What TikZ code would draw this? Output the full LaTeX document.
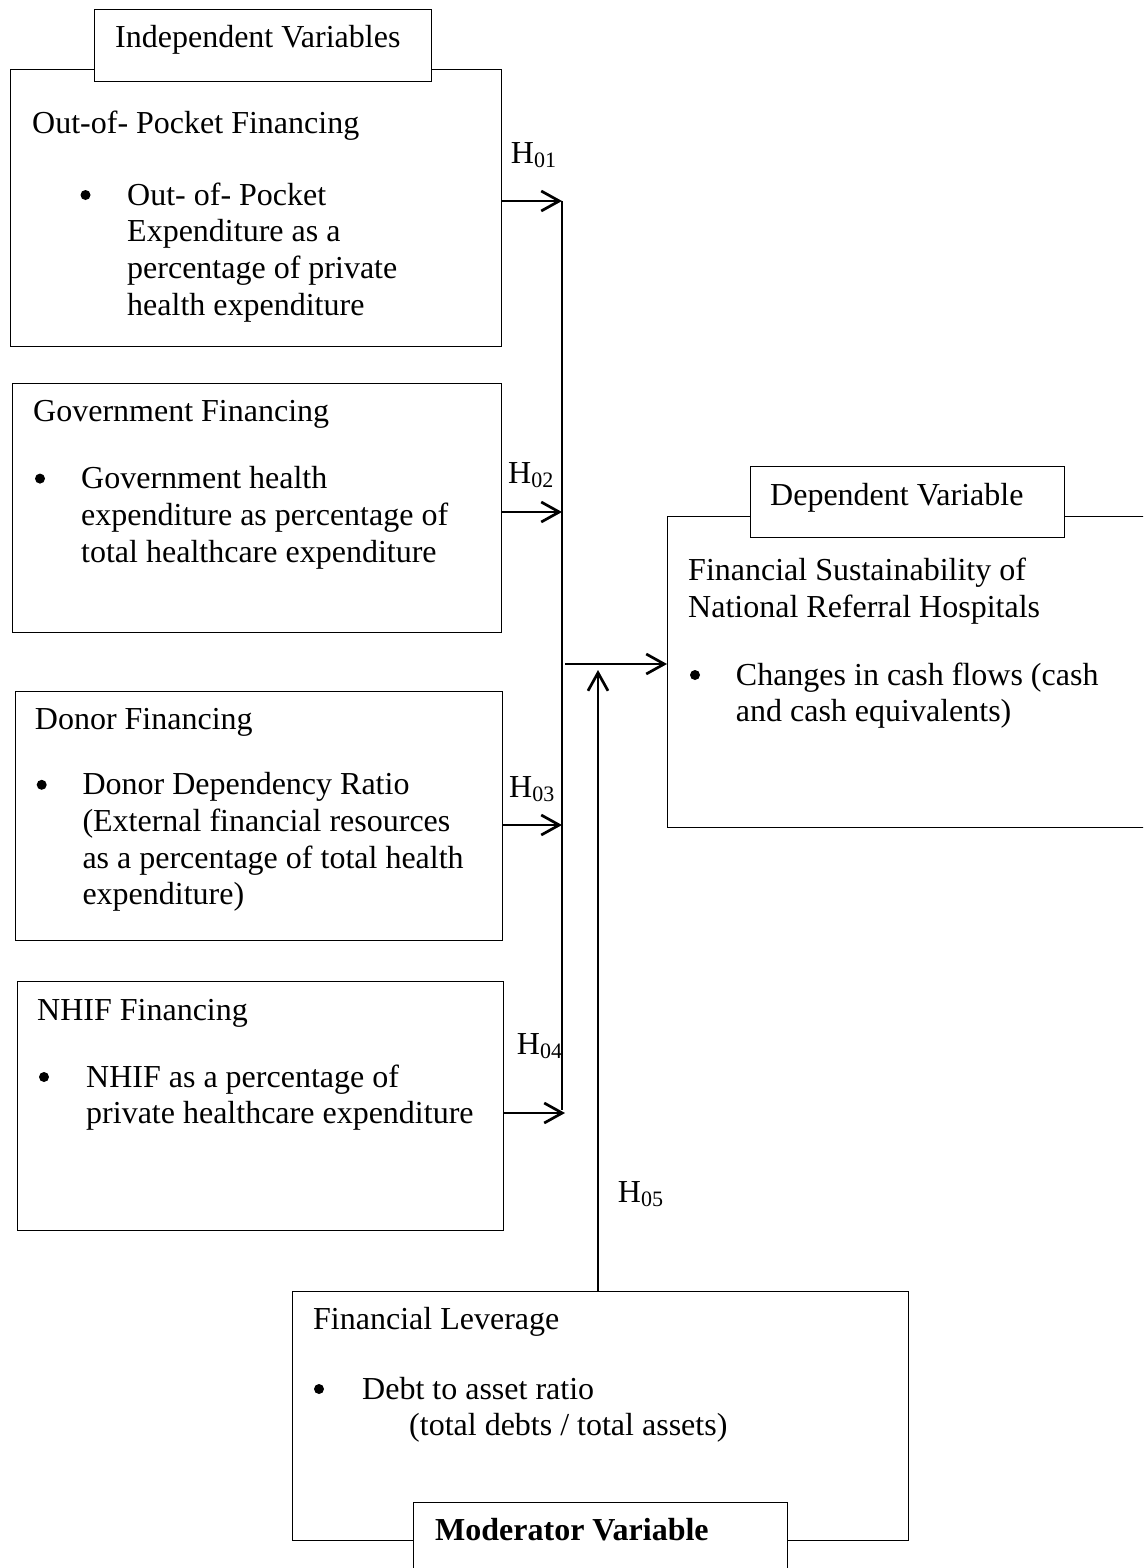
\documentclass[tikz,border=0pt]{standalone}
\usepackage{fontspec}
\setmainfont{Liberation Serif}
\usetikzlibrary{arrows.meta}

\newcommand\Hsub[1]{H\raisebox{-4pt}{\fontsize{22}{22}\selectfont #1}}

\begin{document}
\begin{tikzpicture}[x=1pt, y=-1pt,
  font=\fontsize{32}{36.7}\selectfont,
  box/.style={draw, line width=1.3pt, rectangle, inner sep=0pt, anchor=north west},
  tag/.style={draw, line width=1.3pt, rectangle, fill=white, inner sep=0pt, anchor=north west},
  txt/.style={anchor=base west, inner sep=0pt, align=left},
  puce/.style={circle, fill, inner sep=0pt, minimum size=10pt},
  hyp/.style={anchor=base west, inner sep=0pt},
  fleche/.style={line width=2.7pt, -{Straight Barb[length=18pt, width=20pt]}},
  bus/.style={line width=2pt}]

\useasboundingbox (0,0) rectangle (1143,1568);
\clip (0,0) rectangle (1143,1568);

% Boites
\node[box, minimum width=491, minimum height=277] (oop) at (10,69) {};
\node[tag, minimum width=337, minimum height=72] (indep) at (94,9) {};
\node[box, minimum width=489, minimum height=249] (gov) at (12,383) {};
\node[box, minimum width=487, minimum height=249] (don) at (15,691) {};
\node[box, minimum width=486, minimum height=249] (nhif) at (17,981) {};
\node[box, minimum width=493, minimum height=311] (dep) at (667,516) {};
\node[tag, minimum width=314, minimum height=71] (deptag) at (750,466) {};
\node[box, minimum width=616, minimum height=249] (mod) at (292,1291) {};
\node[tag, minimum width=374, minimum height=120] (modtag) at (413,1502) {};

% Textes (base = derniere ligne)
\node[txt] (indepT) at (115,48) {Independent Variables};
\node[txt] (oopT) at (32,133) {Out-of- Pocket Financing};
\node[puce] (oopP) at (85.5,195) {};
\node[txt] (oopL) at (127,315.1) {Out- of- Pocket\\Expenditure as a\\percentage of private\\health expenditure};

\node[txt] (govT) at (33,421.7) {Government Financing};
\node[puce] (govP) at (40,478.6) {};
\node[txt] (govL) at (81,562) {Government health\\expenditure as percentage of\\total healthcare expenditure};

\node[txt] (donT) at (34.7,729.7) {Donor Financing};
\node[puce] (donP) at (41.7,784.8) {};
\node[txt] (donL) at (82.3,904.9) {Donor Dependency Ratio\\(External financial resources\\as a percentage of total health\\expenditure)};

\node[txt] (nhifT) at (37,1020) {NHIF Financing};
\node[puce] (nhifP) at (44,1077) {};
\node[txt] (nhifL) at (86,1123.7) {NHIF as a percentage of\\private healthcare expenditure};

\node[txt] (depT) at (770,505) {Dependent Variable};
\node[txt] (depN) at (688,617.4) {Financial Sustainability of\\National Referral Hospitals};
\node[puce] (depP) at (695,675) {};
\node[txt] (depL) at (735.7,721.7) {Changes in cash flows (cash\\and cash equivalents)};

\node[txt] (modN) at (313,1329) {Financial Leverage};
\node[puce] (modP) at (319,1389) {};
\node[txt] (modL) at (362,1399) {Debt to asset ratio};
\node[txt] (modL2) at (409,1435) {(total debts / total assets)};
\node[txt] (modT) at (435,1540) {\bfseries Moderator Variable};

% Hypotheses
\node[hyp] (h1) at (510.7,164) {\Hsub{01}};
\node[hyp] (h2) at (508,483.6) {\Hsub{02}};
\node[hyp] (h3) at (509,797) {\Hsub{03}};
\node[hyp] (h4) at (516.7,1054) {\Hsub{04}};
\node[hyp] (h5) at (617.7,1202.5) {\Hsub{05}};

% Fleches
\coordinate (b1) at (562,201);
\coordinate (b2) at (562,512);
\coordinate (b3) at (562,825);
\coordinate (b4) at (565,1113);
\coordinate (bb) at (562,1110);
\coordinate (jn) at (565,664);
\coordinate (mt) at (598,670);

\draw[bus] (b1) -- (bb);
\draw[fleche] (oop.east |- b1) -- (b1);
\draw[fleche] (gov.east |- b2) -- (b2);
\draw[fleche] (don.east |- b3) -- (b3);
\draw[fleche] (nhif.east |- b4) -- (b4);
\draw[fleche] (jn) -- (dep.west |- jn);
\draw[fleche] (mod.north -| mt) -- (mt);

\end{tikzpicture}
\end{document}
